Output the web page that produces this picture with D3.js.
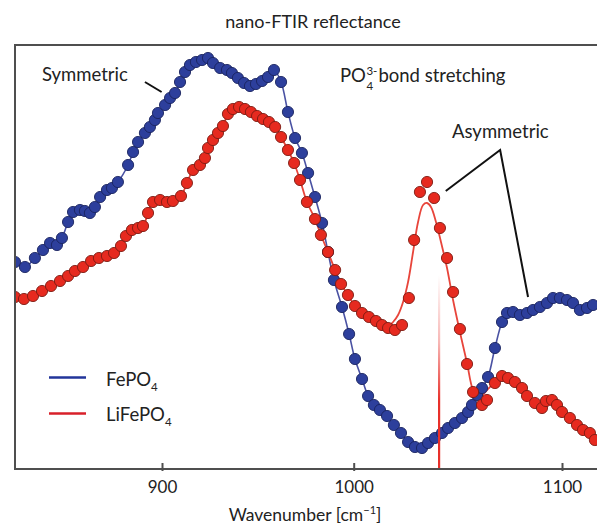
<!DOCTYPE html>
<html><head><meta charset="utf-8">
<script src="https://cdn.jsdelivr.net/npm/d3@7"></script>
<style>
body{margin:0;background:#fff}
svg{display:block}
text{font-family:Lato,"Open Sans",sans-serif;fill:#222}
</style>
</head><body>
<svg id="c" width="597" height="526"></svg>
<script>
// ---------- data ----------
const xTicks = [900, 1000, 1100];
const markerWavenumber = 1041;

const fepo4Wavenumber = [823.3,828.5,833.7,837.9,841.6,845.2,847.8,851.0,853.6,857.2,
 859.8,862.4,865.0,867.7,871.3,873.9,877.0,882.3,884.9,
 887.5,891.1,893.7,896.3,897.9,901.6,904.2,906.8,909.4,912.0,
 914.6,917.7,920.9,924.0,926.6,930.3,933.9,936.5,939.6,942.8,
 945.9,949.0,952.2,955.3,958.4,962.1,965.7,969.4,973.0,976.2,
 979.8,983.5,986.6,989.7,993.9,997.6,1000.6,1004.0,1006.9,1009.7,
 1012.6,1016.0,1019.3,1022.7,1026.1,1029.4,1032.8,1035.7,1039.0,1042.4,
 1045.3,1048.6,1052.0,1054.9,1056.8,1059.2,1061.6,1064.5,1067.8,1071.2,
 1073.6,1076.5,1079.8,1083.2,1086.1,1089.4,1092.8,1095.7,1099.0,1102.4,
 1105.3,1108.6,1112.0,1114.9];
const fepo4Reflectance = [2.07,2.02,2.11,2.19,2.26,2.24,2.31,2.47,2.57,2.59,
 2.58,2.56,2.62,2.72,2.79,2.81,2.87,3.04,3.17,
 3.27,3.36,3.42,3.49,3.56,3.64,3.71,3.76,3.87,3.97,
 4.04,4.07,4.09,4.11,4.06,4.01,3.99,3.96,3.91,3.86,
 3.83,3.85,3.88,3.92,3.99,3.87,3.57,3.31,3.16,2.96,
 2.72,2.46,2.17,1.89,1.62,1.35,1.10,0.90,0.73,0.64,
 0.59,0.53,0.44,0.36,0.27,0.22,0.21,0.26,0.31,0.36,
 0.41,0.46,0.51,0.57,0.64,0.74,0.81,0.92,1.21,1.47,
 1.56,1.57,1.54,1.56,1.59,1.62,1.66,1.71,1.71,1.69,
 1.66,1.59,1.61,1.64];

const lifepo4Wavenumber = [823.3,828.0,832.7,837.4,842.1,846.8,851.0,854.6,858.8,863.0,
 867.1,871.3,875.0,878.6,881.2,884.3,887.5,890.1,892.7,895.3,
 899.0,902.6,905.7,909.9,913.0,916.2,919.8,922.4,924.0,926.6,
 929.2,931.8,934.4,937.0,940.2,943.3,946.4,949.6,952.7,955.8,
 959.0,962.1,965.7,968.9,972.0,975.6,979.8,982.9,986.6,990.3,
 993.4,997.0,1000.6,1004.0,1007.3,1010.7,1013.6,1016.5,1019.8,1023.2,
 1026.5,1029.0,1031.8,1035.2,1038.6,1041.4,1044.8,1047.7,1051.0,1054.4,
 1057.3,1061.6,1064.0,1067.8,1071.2,1074.1,1077.4,1080.8,1083.2,1087.0,
 1090.4,1092.3,1095.2,1097.6,1100.0,1103.8,1107.2,1110.1,1113.4,1115.8];
const lifepo4Reflectance = [1.72,1.70,1.73,1.78,1.83,1.88,1.93,1.98,2.02,2.08,
 2.11,2.13,2.16,2.23,2.33,2.39,2.41,2.43,2.56,2.67,
 2.69,2.67,2.68,2.73,2.86,2.99,3.04,3.11,3.21,3.29,
 3.36,3.43,3.55,3.60,3.62,3.60,3.57,3.53,3.50,3.47,
 3.42,3.32,3.19,3.06,2.89,2.67,2.50,2.34,2.17,1.99,
 1.85,1.74,1.63,1.56,1.52,1.48,1.44,1.41,1.39,1.44,
 1.71,2.29,2.77,2.87,2.71,2.41,2.11,1.77,1.40,1.05,
 0.77,0.64,0.69,0.86,0.93,0.91,0.87,0.81,0.73,0.66,
 0.61,0.68,0.69,0.64,0.57,0.51,0.44,0.39,0.36,0.29];

// fitted curve through the asymmetric LiFePO4 band
const lifepo4FitWavenumber = [1016.5,1018.9,1021.3,1023.7,1026.1,1028.5,1030.9,1033.3,1035.2,1037.1,
 1039.5,1041.9,1044.8,1047.7,1051.0,1054.4,1057.3,1060.2,1064.0,1067.8];
const lifepo4FitReflectance = [1.43,1.47,1.54,1.67,1.87,2.17,2.47,2.64,2.66,2.62,
 2.47,2.27,2.01,1.69,1.37,1.06,0.79,0.71,0.79,0.87];

// annotation leader lines (data coordinates)
const symmetricLeader = [[891.1, 3.87], [899.8, 3.77]];
const asymmetricLeader = [[1044.2, 2.78], [1070.3, 3.19], [1083.7, 1.72]];

// ---------- layout ----------
const W = 597, H = 526;
const L = 15, R = 597, T = 45, B = 469;
const FONT = 'Lato, "Open Sans", sans-serif';
const BLUE = "#2d3f9c", BLUE_EDGE = "#1a2460", BLUE_LINE = "#4a52a3";
const RED = "#e62a1f", RED_EDGE = "#7d1b12", RED_LINE = "#e8453b";
const AXIS = "#4f4f4f";

const svg = d3.select("#c");
const x = d3.scaleLinear().domain(xTicks).range([162, 353.7, 562]);
const y = d3.scaleLinear().domain([0, 4.23]).range([B, 46]);

const defs = svg.append("defs");
defs.append("clipPath").attr("id", "clip").append("rect")
  .attr("x", L).attr("y", 0).attr("width", R - L).attr("height", B);
const grad = defs.append("linearGradient").attr("id", "mk")
  .attr("gradientUnits", "userSpaceOnUse")
  .attr("x1", 0).attr("x2", 0).attr("y1", 275).attr("y2", B);
grad.append("stop").attr("offset", 0).attr("stop-color", "#e8302a").attr("stop-opacity", 0);
grad.append("stop").attr("offset", 0.35).attr("stop-color", "#e8302a").attr("stop-opacity", 0.35);
grad.append("stop").attr("offset", 0.65).attr("stop-color", "#e8302a").attr("stop-opacity", 1);
grad.append("stop").attr("offset", 1).attr("stop-color", "#e8302a").attr("stop-opacity", 1);

const blue = fepo4Wavenumber.map((w, i) => ({w, r: fepo4Reflectance[i]}));
const red = lifepo4Wavenumber.map((w, i) => ({w, r: lifepo4Reflectance[i]}));
const fit = lifepo4FitWavenumber.map((w, i) => ({w, r: lifepo4FitReflectance[i]}));
const f0 = lifepo4FitWavenumber[0], f1 = lifepo4FitWavenumber[lifepo4FitWavenumber.length - 1];
const redLine = red.filter(d => d.w < f0).concat(fit, red.filter(d => d.w > f1));

const line = d3.line().x(d => x(d.w)).y(d => y(d.r)).curve(d3.curveCatmullRom.alpha(0.5));

const plot = svg.append("g").attr("clip-path", "url(#clip)");
plot.append("path").attr("d", line(blue)).attr("fill", "none")
  .attr("stroke", BLUE_LINE).attr("stroke-width", 1.6);
plot.append("path").attr("d", line(redLine)).attr("fill", "none")
  .attr("stroke", RED_LINE).attr("stroke-width", 1.8);

plot.append("g").selectAll("circle").data(blue).join("circle")
  .attr("cx", d => x(d.w)).attr("cy", d => y(d.r)).attr("r", 5.6)
  .attr("fill", BLUE).attr("stroke", BLUE_EDGE).attr("stroke-width", 0.9);
plot.append("g").selectAll("circle").data(red).join("circle")
  .attr("cx", d => x(d.w)).attr("cy", d => y(d.r)).attr("r", 5.6)
  .attr("fill", RED).attr("stroke", RED_EDGE).attr("stroke-width", 0.9);

// marker line
plot.append("line").attr("x1", x(markerWavenumber)).attr("x2", x(markerWavenumber))
  .attr("y1", 275).attr("y2", B).attr("stroke", "url(#mk)").attr("stroke-width", 2.2);

// frame
svg.append("line").attr("x1", L).attr("x2", L).attr("y1", T - 1).attr("y2", B + 1)
  .attr("stroke", AXIS).attr("stroke-width", 2);
svg.append("line").attr("x1", L - 1).attr("x2", R).attr("y1", T).attr("y2", T)
  .attr("stroke", AXIS).attr("stroke-width", 2);
svg.append("line").attr("x1", L - 1).attr("x2", R).attr("y1", B).attr("y2", B)
  .attr("stroke", AXIS).attr("stroke-width", 2);

// x axis
const ax = svg.append("g").attr("transform", `translate(0,${B})`)
  .call(d3.axisBottom(x).tickValues(xTicks).tickSizeInner(-6).tickSizeOuter(0)
    .tickPadding(12).tickFormat(d3.format("d")));
ax.select(".domain").remove();
ax.attr("font-family", FONT).attr("font-size", 17);
ax.selectAll(".tick line").attr("stroke", AXIS).attr("stroke-width", 2).attr("y1", 2);
ax.selectAll(".tick text").attr("fill", "#222");

// leader lines
const leader = d3.line().x(d => x(d[0])).y(d => y(d[1]));
svg.append("path").attr("d", leader(symmetricLeader)).attr("fill", "none")
  .attr("stroke", "#111").attr("stroke-width", 2);
svg.append("path").attr("d", leader(asymmetricLeader)).attr("fill", "none")
  .attr("stroke", "#111").attr("stroke-width", 2);

// texts
const txt = (s, tx, ty, size, anchor) => svg.append("text").attr("x", tx).attr("y", ty)
  .attr("font-size", size).attr("text-anchor", anchor || "start").text(s);

txt("nano-FTIR reflectance", 313, 28, 18, "middle");
txt("Symmetric", 42, 81, 18.5);
txt("Asymmetric", 452, 138, 18.5);

const po = txt("PO", 340, 82, 18.5);
const poW = po.node().getComputedTextLength();
txt("4", 340 + poW + 0.5, 90, 11.5);
const sup = txt("3-", 340 + poW + 0.5, 75, 11.5);
const supW = sup.node().getComputedTextLength();
txt("bond stretching", 340 + poW + supW + 1.5, 82, 18.5);

// legend
svg.append("line").attr("x1", 49).attr("x2", 86).attr("y1", 377.5).attr("y2", 377.5)
  .attr("stroke", "#22359a").attr("stroke-width", 2.6);
svg.append("line").attr("x1", 49).attr("x2", 86).attr("y1", 413.5).attr("y2", 413.5)
  .attr("stroke", "#d8202a").attr("stroke-width", 2.6);
const lg1 = txt("FePO", 106, 386, 18.5);
lg1.append("tspan").attr("dy", 5).attr("font-size", 11.5).text("4");
const lg2 = txt("LiFePO", 106, 421, 18.5);
lg2.append("tspan").attr("dy", 5).attr("font-size", 11.5).text("4");

// axis title
const xt = txt("Wavenumber [cm", 305, 521, 17.5, "middle");
xt.append("tspan").attr("dy", -7).attr("font-size", 11).text("−1");
xt.append("tspan").attr("dy", 7).text("]");
</script>
</body></html>
